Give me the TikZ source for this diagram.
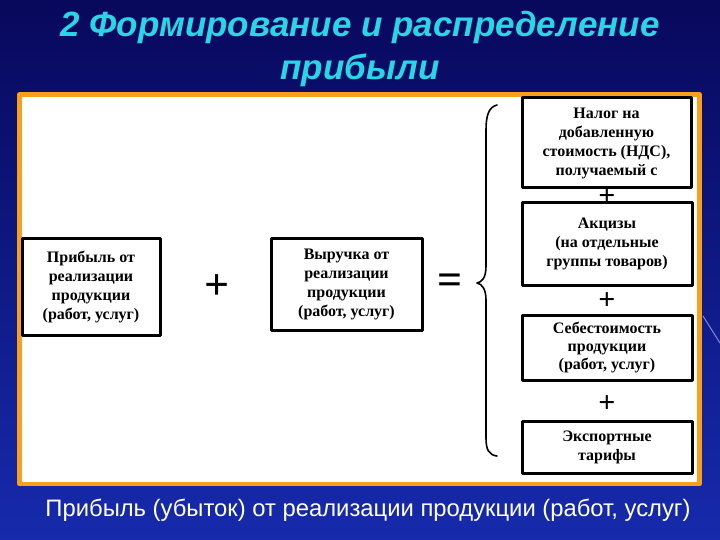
\documentclass[tikz,border=0pt]{standalone}
\usepackage{fontspec}
\setmainfont{Liberation Serif}
\setsansfont{Liberation Sans}
\definecolor{slidetop}{RGB}{8,8,92}
\definecolor{slidebot}{RGB}{22,42,172}
\definecolor{titlecyan}{RGB}{40,214,230}
\definecolor{frameorange}{RGB}{246,160,28}
\begin{document}
\begin{tikzpicture}[x=1pt, y=-1pt, line cap=round, line join=round,
    box/.style={draw, line width=3pt, fill=white, align=center, inner sep=0pt,
      font=\bfseries\fontsize{16}{19}\selectfont},
    headline/.style={text=titlecyan, font=\sffamily\bfseries\itshape\fontsize{35}{40}\selectfont},
    bigop/.style={font=\bfseries\fontsize{44}{44}\selectfont, inner sep=0pt},
    smallop/.style={font=\bfseries\fontsize{30}{30}\selectfont, inner sep=0pt}]
    \useasboundingbox (0,0) rectangle (720,540);
    \shade[top color=slidetop, bottom color=slidebot] (0,0) rectangle (720,540);
    \draw[white!70!blue, line width=1pt, opacity=0.7] (703,316) -- (720,343);
    \draw[frameorange, line width=4.5pt, fill=white] (19.5,94.5) rectangle (699.5,484);
    % title and result line
    \node[headline] (head1) at (360,27) {2 Формирование и распределение};
    \node[headline] (head2) at (360,70) {прибыли};
    \node[text=white, font=\sffamily\fontsize{23.8}{26}\selectfont] (result) at (368,510)
      {Прибыль (убыток) от реализации продукции (работ, услуг)};
    % left part
    \node[box, minimum width=138pt, minimum height=97pt] (profit) at (91,286.5)
      {Прибыль от\\реализации\\продукции\\(работ, услуг)};
    \node[bigop] (plus) at (217,287) {+};
    \node[box, minimum width=151pt, minimum height=92pt] (revenue) at (346.5,284)
      {Выручка от\\реализации\\продукции\\(работ, услуг)};
    \node[bigop] (equal) at (450,284) {=};
    % brace
    \draw[line width=1.6pt] (497,105) .. controls (489,107) and (486,115) .. (486,130)
      -- (486,266) .. controls (486,278) and (482,282) .. (477,283)
      .. controls (482,284) and (486,289) .. (486,300)
      -- (486,438) .. controls (486,450) and (489,455) .. (497,456);
    % right column
    \node[box, minimum width=169pt, minimum height=90pt] (vat) at (606.5,143)
      {Налог на\\добавленную\\стоимость (НДС),\\получаемый с};
    \node[smallop] (plusa) at (607,197) {+};
    \node[box, minimum width=170pt, minimum height=82pt] (excise) at (607,244)
      {Акцизы\\(на отдельные\\группы товаров)};
    \node[smallop] (plusb) at (607,301) {+};
    \node[box, minimum width=170pt, minimum height=65pt, font=\bfseries\fontsize{16}{18}\selectfont]
      (cost) at (607,347.5) {Себестоимость\\продукции\\(работ, услуг)};
    \node[smallop] (plusc) at (607,404) {+};
    \node[box, minimum width=170pt, minimum height=52pt] (tariff) at (607,447)
      {Экспортные\\тарифы};
\end{tikzpicture}
\end{document}
